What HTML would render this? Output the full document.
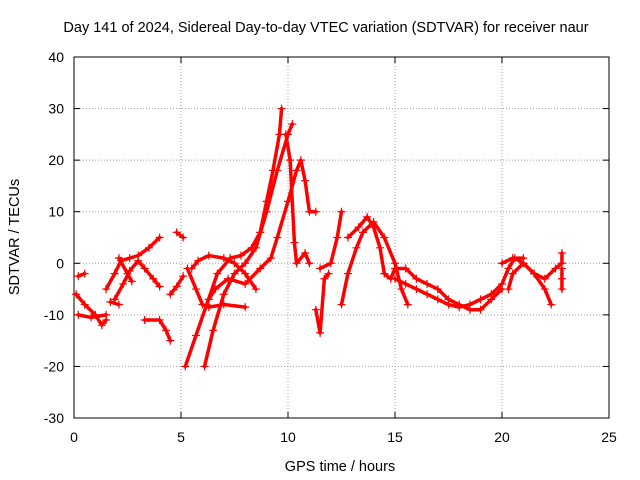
<!DOCTYPE html>
<html><head><meta charset="utf-8"><style>
body{margin:0;background:#fff;}
svg{display:block;font-family:"Liberation Sans",sans-serif;}
</style></head><body>
<svg id="chart" width="640" height="480" viewBox="0 0 640 480">
<rect width="640" height="480" fill="#fff"/>
<text x="326" y="32" font-size="14.5" text-anchor="middle">Day 141 of 2024, Sidereal Day-to-day VTEC variation (SDTVAR) for receiver naur</text>
<text x="340" y="471" font-size="14.5" text-anchor="middle">GPS time / hours</text>
<text transform="translate(19,237) rotate(-90)" font-size="14.5" text-anchor="middle">SDTVAR / TECUs</text>
<g id="grid"></g><g id="axes"></g><g id="marks"></g>
</svg>
<script>
const xTicks=[0,5,10,15,20,25];
const yTicks=[-30,-20,-10,0,10,20,30,40];
const trackA=[[0.1,-6],[0.5,-8],[1,-10],[1.3,-12],[1.5,-11]];
const trackA2=[[0.2,-10],[0.8,-10.5],[1.5,-10]];
const trackA3=[[0.2,-2.5],[0.5,-2]];
const trackB=[[1.5,-5],[1.9,-2],[2.2,0.5],[2.6,1],[3,1.5],[3.5,3],[4,5]];
const trackC=[[1.9,-7],[2.3,-4],[2.6,-1.5],[3,0.5],[3.3,-1],[3.7,-3],[4,-4.5]];
const trackC2=[[2.1,1],[2.5,-2],[2.7,-3.5]];
const trackC3=[[1.7,-7.5],[2.1,-8]];
const trackD0=[[3.3,-11],[4,-11],[4.3,-13],[4.5,-15]];
const trackD1=[[4.8,6],[5.1,5]];
const trackD2=[[4.5,-6],[4.8,-4.5],[5.1,-2.5]];
const trackD=[[5.2,-20],[5.7,-14],[6.2,-8],[6.7,-2],[7.3,1],[7.8,1.5],[8.3,3],[8.7,6],[9,12],[9.3,18],[9.6,25],[9.7,30]];
const trackE=[[6.1,-20],[6.5,-13],[7,-6],[7.5,-2],[8,0],[8.5,3],[9,10],[9.5,18],[10,25],[10.2,27]];
const trackF=[[5.3,-1],[5.7,-5],[6,-8],[6.3,-8.5],[7,-8],[8,-8.5]];
const trackG=[[5.5,-1],[5.8,0.5],[6.3,1.5],[7,1],[7.5,0],[8,-2],[8.5,-5]];
const trackH=[[6.3,-7],[6.6,-5],[7.2,-3],[8,-4],[8.7,-1],[9.2,1],[9.5,5],[10,12],[10.4,18],[10.6,20],[10.8,16],[11,10],[11.3,10]];
const trackH2=[[9.9,25],[10.1,20],[10.3,4],[10.4,0],[10.8,2],[11,0]];
const trackH3=[[11.5,-1],[12,0],[12.3,5],[12.5,10]];
const trackH4=[[11.3,-9],[11.5,-13.5],[11.7,-3],[11.9,-2]];
const trackI=[[12.5,-8],[12.8,-2],[13.2,3],[13.5,6],[14,8],[14.5,5],[15,0],[15.3,-5],[15.6,-8]];
const trackJ=[[12.8,5],[13.3,7],[13.7,9],[14,7],[14.3,3],[14.5,-2],[14.8,-3],[15,-1],[15.5,-1],[16,-3],[16.5,-4],[17,-5],[17.5,-7],[18,-8],[18.5,-9],[19,-9],[19.5,-7],[20,-5]];
const trackK=[[15,-3],[15.5,-4],[16,-5],[16.5,-6],[17,-7],[17.5,-8],[18,-8.5],[18.5,-8],[19,-7],[19.5,-6],[20,-4],[20.3,-1],[20.6,1],[21,0],[21.5,-2],[22,-5],[22.3,-8]];
const trackL=[[20.3,-5],[20.5,-2],[21,0],[21.5,-2],[22,-3],[22.5,-1],[22.8,0],[22.8,2]];
const trackL2=[[20,0],[20.5,1],[21,1]];
const trackL3=[[22.8,-1],[22.8,-3],[22.8,-5]];
const tracks=[trackA,trackA2,trackA3,trackB,trackC,trackC2,trackC3,trackD0,trackD1,trackD2,trackD,trackE,trackF,trackG,trackH,trackH2,trackH3,trackH4,trackI,trackJ,trackK,trackL,trackL2,trackL3];

const X0=74,X1=609,Y0=418,Y1=57;
const xs=v=>X0+(v-0)/(25-0)*(X1-X0);
const ys=v=>Y0-(v-(-30))/(40-(-30))*(Y0-Y1);
const NS='http://www.w3.org/2000/svg';
function mk(tag,attrs,parent){const e=document.createElementNS(NS,tag);for(const k in attrs)e.setAttribute(k,attrs[k]);parent.appendChild(e);return e;}
const grid=document.getElementById('grid'),axes=document.getElementById('axes'),marks=document.getElementById('marks');
xTicks.forEach(t=>{
  const x=xs(t);
  if(t>0&&t<25){const g=mk('line',{x1:x,x2:x,y1:Y1,y2:Y0,stroke:'#a0a0a0','stroke-dasharray':'1,2'},grid);
  
  }
  mk('line',{x1:x,x2:x,y1:Y0,y2:Y0-6,stroke:'#000'},axes);
  mk('line',{x1:x,x2:x,y1:Y1,y2:Y1+6,stroke:'#000'},axes);
  const l=mk('text',{x:x,y:Y0+24,'font-size':14,'text-anchor':'middle'},axes);
  l.textContent=t;
  
  
});
yTicks.forEach(t=>{
  const y=ys(t);
  if(t>-30&&t<40){const g=mk('line',{x1:X0,x2:X1,y1:y,y2:y,stroke:'#a0a0a0','stroke-dasharray':'1,2'},grid);
  
  }
  mk('line',{x1:X0,x2:X0+6,y1:y,y2:y,stroke:'#000'},axes);
  mk('line',{x1:X1,x2:X1-6,y1:y,y2:y,stroke:'#000'},axes);
  const l=mk('text',{x:X0-10,y:y+5,'font-size':14,'text-anchor':'end'},axes);
  l.textContent=t;
  
  
});
const frame=mk('rect',{x:X0,y:Y1,width:X1-X0,height:Y0-Y1,fill:'none',stroke:'#000'},axes);


tracks.forEach(tr=>{
  const pl=mk('polyline',{points:tr.map(p=>xs(p[0])+','+ys(p[1])).join(' '),fill:'none',stroke:'#f00','stroke-width':3.5,'stroke-linejoin':'round','stroke-linecap':'round'},marks);
  
  
  tr.forEach(p=>{
    const x=xs(p[0]),y=ys(p[1]);
    const m=mk('path',{d:`M${x-4},${y}H${x+4}M${x},${y-4}V${y+4}`,stroke:'#f00','stroke-width':1.2},marks);
    
    
  });
});
</script>
</body></html>
